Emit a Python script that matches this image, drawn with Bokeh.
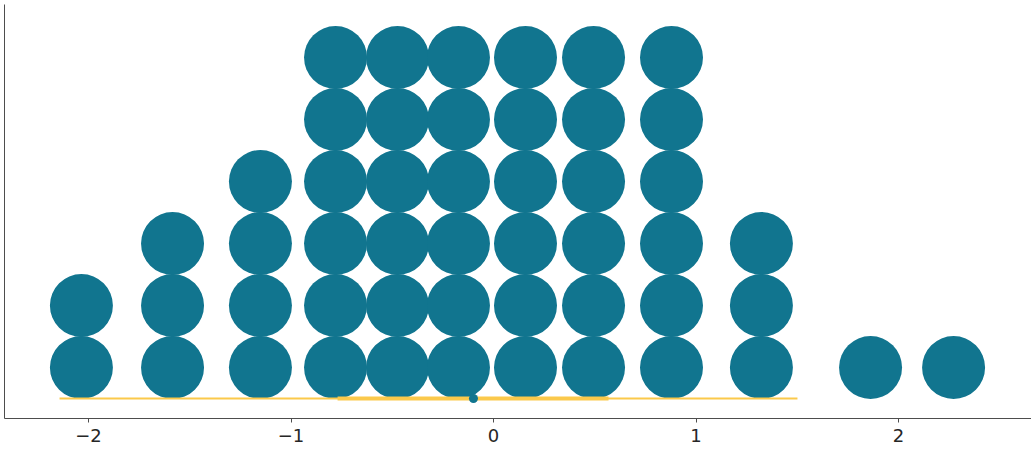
from bokeh.plotting import figure
from bokeh.models import Range1d, FixedTicker
from bokeh.embed import file_html
from bokeh.resources import INLINE

# ---- data ----
dot_x = [-2.035, -1.585, -1.151, -0.780, -0.474, -0.173, 0.158, 0.494, 0.879, 1.323, 1.862, 2.272]
dot_counts = [2, 3, 4, 6, 6, 6, 6, 6, 6, 3, 1, 1]
hdi_outer = [-2.143, 1.501]
hdi_inner = [-0.770, 0.568]
point_estimate = -0.099
tick_values = [-2, -1, 0, 1, 2]
tick_labels = ["\u22122", "\u22121", "0", "1", "2"]

DOT_COLOR = "#11758f"
HDI_COLOR = "#fbc94b"

xs, ys = [], []
for x, c in zip(dot_x, dot_counts):
    for k in range(c):
        xs.append(x)
        ys.append(k)

px_per_unit = 202.5
frame_left = 4
frame_top = 4
frame_w = 1027
frame_h = 414
x_start = (frame_left - 493) / px_per_unit
x_end = x_start + frame_w / px_per_unit
row_px = 62
y_start = -51 / row_px
y_end = y_start + frame_h / row_px

p = figure(frame_width=frame_w, frame_height=frame_h, output_backend="svg",
           toolbar_location=None,
           x_range=Range1d(x_start, x_end), y_range=Range1d(y_start, y_end),
           min_border_left=frame_left, min_border_right=0,
           min_border_top=frame_top, min_border_bottom=0)
p.outline_line_color = None
p.xgrid.visible = False
p.ygrid.visible = False
p.background_fill_color = "white"
p.border_fill_color = "white"

p.scatter(xs, ys, size=63, color=DOT_COLOR, line_color=None)

base = -0.5
p.line(hdi_outer, [base, base], line_width=2, color=HDI_COLOR)
p.line(hdi_inner, [base, base], line_width=4, color=HDI_COLOR)
p.scatter([point_estimate], [base], size=9, color=DOT_COLOR, line_color=None)

p.xaxis.ticker = FixedTicker(ticks=tick_values)
p.xaxis.major_label_overrides = {v: l for v, l in zip(tick_values, tick_labels)}
p.xaxis.minor_tick_line_color = None
p.xaxis.major_tick_out = 4
p.xaxis.major_tick_in = 0
p.xaxis.axis_line_color = "#4d4d4d"
p.xaxis.major_tick_line_color = "#4d4d4d"
p.xaxis.major_label_text_font = "DejaVu Sans"
p.xaxis.major_label_text_font_size = "18px"
p.xaxis.major_label_text_color = "#262626"
p.xaxis.major_label_standoff = 6

p.yaxis.ticker = FixedTicker(ticks=[])
p.yaxis.minor_tick_line_color = None
p.yaxis.major_tick_line_color = None
p.yaxis.major_label_text_font_size = "0px"
p.yaxis.axis_line_color = "#4d4d4d"

open("out.html", "w").write(file_html(p, INLINE))
